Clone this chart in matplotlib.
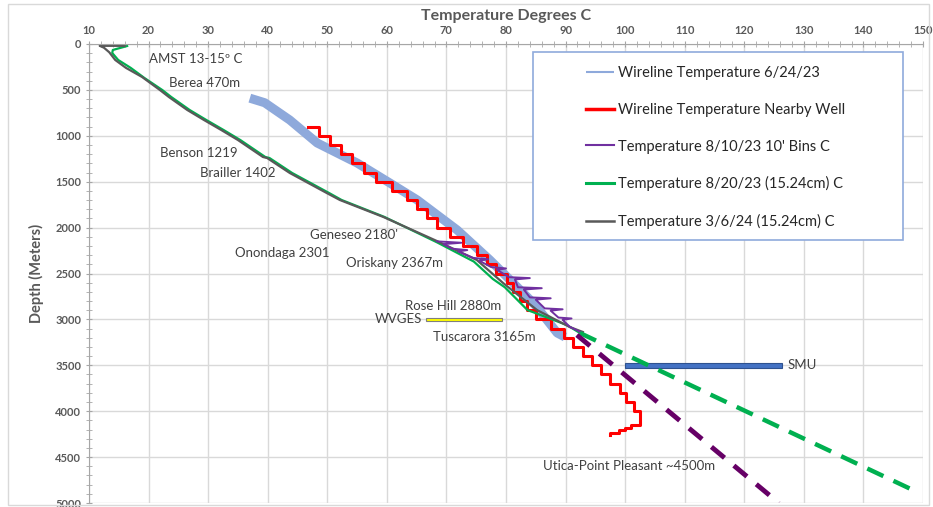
import matplotlib
matplotlib.use('Agg')
import matplotlib.pyplot as plt
from matplotlib.patches import Rectangle
from matplotlib.ticker import MultipleLocator

plt.rcParams['font.family'] = ['Lato', 'DejaVu Sans']

# wireline 6/24/23 (temp C, depth m)
blue_t = [37.0, 39.5, 43.7, 48.3, 55.0, 60.5, 65.1, 71.8, 77.3, 81.2, 84.9, 88.6, 89.9]
blue_d = [590, 640, 828, 1078, 1296, 1514, 1699, 2026, 2353, 2603, 2843, 3148, 3192]

# wireline nearby well
red_d = [900, 1000, 1100, 1200, 1300, 1400, 1500, 1600, 1700, 1800, 1900, 2000,
         2100, 2200, 2300, 2400, 2500, 2600, 2700, 2800, 2900, 3000, 3100, 3200,
         3300, 3400, 3500, 3600, 3700, 3800, 3900, 4000, 4100, 4150, 4180, 4210,
         4240, 4260]
red_t = [46.8, 48.6, 50.5, 52.3, 54.2, 56.2, 58.1, 60.8, 63.4, 65.0, 66.7, 68.4,
         70.6, 72.8, 75.2, 76.8, 78.4, 80.2, 81.2, 82.4, 83.6, 85.0, 87.6, 89.8,
         91.3, 93.0, 94.5, 96.0, 97.5, 99.1, 100.2, 101.5, 102.5, 102.5, 101.0, 100.0,
         99.0, 97.5]

# 8/10/23 10' bins
purple_d = [2150, 2165, 2180, 2230, 2245, 2260, 2330, 2345, 2360, 2430, 2445, 2460,
            2540, 2550, 2565, 2650, 2660, 2675, 2760, 2770, 2785, 2880, 2890, 2905,
            2980, 2990, 3005, 3080, 3150]
purple_t = [68.4, 72.5, 69.5, 71.0, 73.5, 72.0, 74.5, 77.0, 75.5, 77.5, 80.0, 78.5,
            80.5, 84.0, 81.5, 82.0, 86.0, 83.0, 84.0, 87.5, 85.0, 86.5, 89.5, 87.5,
            88.8, 91.0, 89.5, 90.7, 92.9]

# 8/20/23 (15.24cm)
green_t = [16.4, 14.0, 13.9, 14.9, 17.0, 19.3, 22.3, 23.8, 26.9, 29.7, 32.6, 35.4,
           39.6, 40.3, 44.1, 50.3, 52.4, 59.6, 68.4, 74.6, 77.8, 79.8, 83.6, 90.2, 92.4]
green_d = [22, 65, 98, 174, 260, 370, 501, 577, 719, 828, 937, 1046,
           1231, 1242, 1405, 1623, 1699, 1884, 2160, 2370, 2560, 2650, 2898, 3061, 3148]

# 3/6/24 (15.24cm)
gray_t = [16.0, 11.8, 12.5, 13.4, 14.4, 16.2, 18.9, 21.9, 23.4, 26.5, 29.3, 32.2,
          35.0, 39.2, 39.9, 43.7, 49.9, 52.1, 59.4, 68.4, 75.1, 79.5, 85.2, 90.7, 92.9]
gray_d = [20, 20, 40, 90, 174, 260, 359, 501, 577, 719, 828, 937,
          1046, 1231, 1242, 1405, 1623, 1699, 1884, 2146, 2353, 2603, 2898, 3083, 3137]

# extrapolations
green_ext_t = [92.4, 149.0]
green_ext_d = [3148, 4880]
purple_ext_t = [91.9, 125.8]
purple_ext_d = [3170, 5000]

# reference bars
wvges = (66.6, 79.3, 3000)
smu = (100.0, 126.3, 3500)

notes = [("AMST 13-15\u00ba C", 20.1, 163), ("Berea 470m", 23.4, 425),
         ("Benson 1219", 21.9, 1187), ("Brailler 1402", 28.6, 1405),
         ("Geneseo 2180'", 47.1, 2081), ("Onondaga 2301", 34.5, 2277),
         ("Oriskany 2367m", 53.1, 2386), ("Rose Hill 2880m", 63.0, 2854),
         ("Tuscarora 3165m", 67.7, 3192), ("SMU", 127.2, 3497),
         ("Utica-Point Pleasant ~4500m", 86.2, 4597)]

fig = plt.figure(figsize=(9.33, 5.07), dpi=100)
ax = fig.add_axes([89/933, 1-503/507, 834/933, 459/507])

ax.set_xlim(10, 150)
ax.set_ylim(5000, 0)
ax.xaxis.tick_top()
ax.xaxis.set_label_position('top')
ax.xaxis.set_major_locator(MultipleLocator(10))
ax.xaxis.set_minor_locator(MultipleLocator(2))
ax.yaxis.set_major_locator(MultipleLocator(500))
ax.yaxis.set_minor_locator(MultipleLocator(100))
ax.grid(True, which='major', color='#D9D9D9', lw=1)
ax.set_axisbelow(True)
ax.tick_params(which='both', direction='inout', length=5, color='#A6A6A6',
               labelsize=8, labelcolor='#595959', pad=3)
for s in ['top', 'left']:
    ax.spines[s].set_color('#A6A6A6')
for s in ['right', 'bottom']:
    ax.spines[s].set_visible(False)
for lab in ax.get_xticklabels() + ax.get_yticklabels():
    lab.set_fontweight('bold')

ax.set_xlabel('Temperature Degrees C', fontsize=11.5, fontweight='bold',
              color='#595959', labelpad=4)
ax.set_ylabel('Depth (Meters)', fontsize=10.5, fontweight='bold',
              color='#595959', labelpad=8)

l1, = ax.plot(blue_t, blue_d, color='#8EA9DB', lw=6.5, solid_capstyle='butt')
l2, = ax.plot(red_t, red_d, color='#FF0000', lw=2.2, drawstyle='steps-post')
l4, = ax.plot(green_t, green_d, color='#00B050', lw=1.6)
l5, = ax.plot(gray_t, gray_d, color='#595959', lw=1.6)
l3, = ax.plot(purple_t, purple_d, color='#7030A0', lw=1.4)
ax.plot(green_ext_t, green_ext_d, color='#00B050', lw=3.2, dashes=(4, 2.5))
ax.plot(purple_ext_t, purple_ext_d, color='#660066', lw=3.5, dashes=(3.5, 2.5))

ax.barh(wvges[2], wvges[1]-wvges[0], left=wvges[0], height=40,
        color='#FFFF00', edgecolor='#7F7F7F', lw=0.8)
ax.barh(smu[2], smu[1]-smu[0], left=smu[0], height=60,
        color='#4472C4', edgecolor='#2F528F', lw=0.8)

for txt, x, y in notes:
    ax.text(x, y, txt, fontsize=9.5, color='#404040', va='center', ha='left')
ax.text(65.9, 2996, 'WVGES', fontsize=9.5, color='#404040', va='center', ha='right')

# legend box
ax.add_patch(Rectangle((533/933, 1-240/507), (903-533)/933, (240-52)/507,
                       transform=fig.transFigure, facecolor='white',
                       edgecolor='#8FAADC', lw=1.2, zorder=5))
leg = ax.legend([l1, l2, l3, l4, l5],
                ['Wireline Temperature 6/24/23', 'Wireline Temperature Nearby Well',
                 'Temperature 8/10/23 10\' Bins C', 'Temperature 8/20/23 (15.24cm) C',
                 'Temperature 3/6/24 (15.24cm) C'],
                loc='upper left', bbox_to_anchor=(579/933, 1-59/507),
                bbox_transform=fig.transFigure, frameon=False, fontsize=10.5,
                handlelength=1.9, handletextpad=0.3, labelspacing=1.55, borderpad=0)
leg.set_zorder(6)
for t in leg.get_texts():
    t.set_color('#262626')
for h, w in zip(leg.get_lines(), [1.5, 2.5, 1.5, 2.2, 1.8]):
    h.set_linewidth(w)

fig.add_artist(Rectangle((8/933, 2/507), 921/933, 501/507, transform=fig.transFigure,
                         fill=False, edgecolor='#D9D9D9', lw=1))

fig.savefig('out.png', dpi=100)
